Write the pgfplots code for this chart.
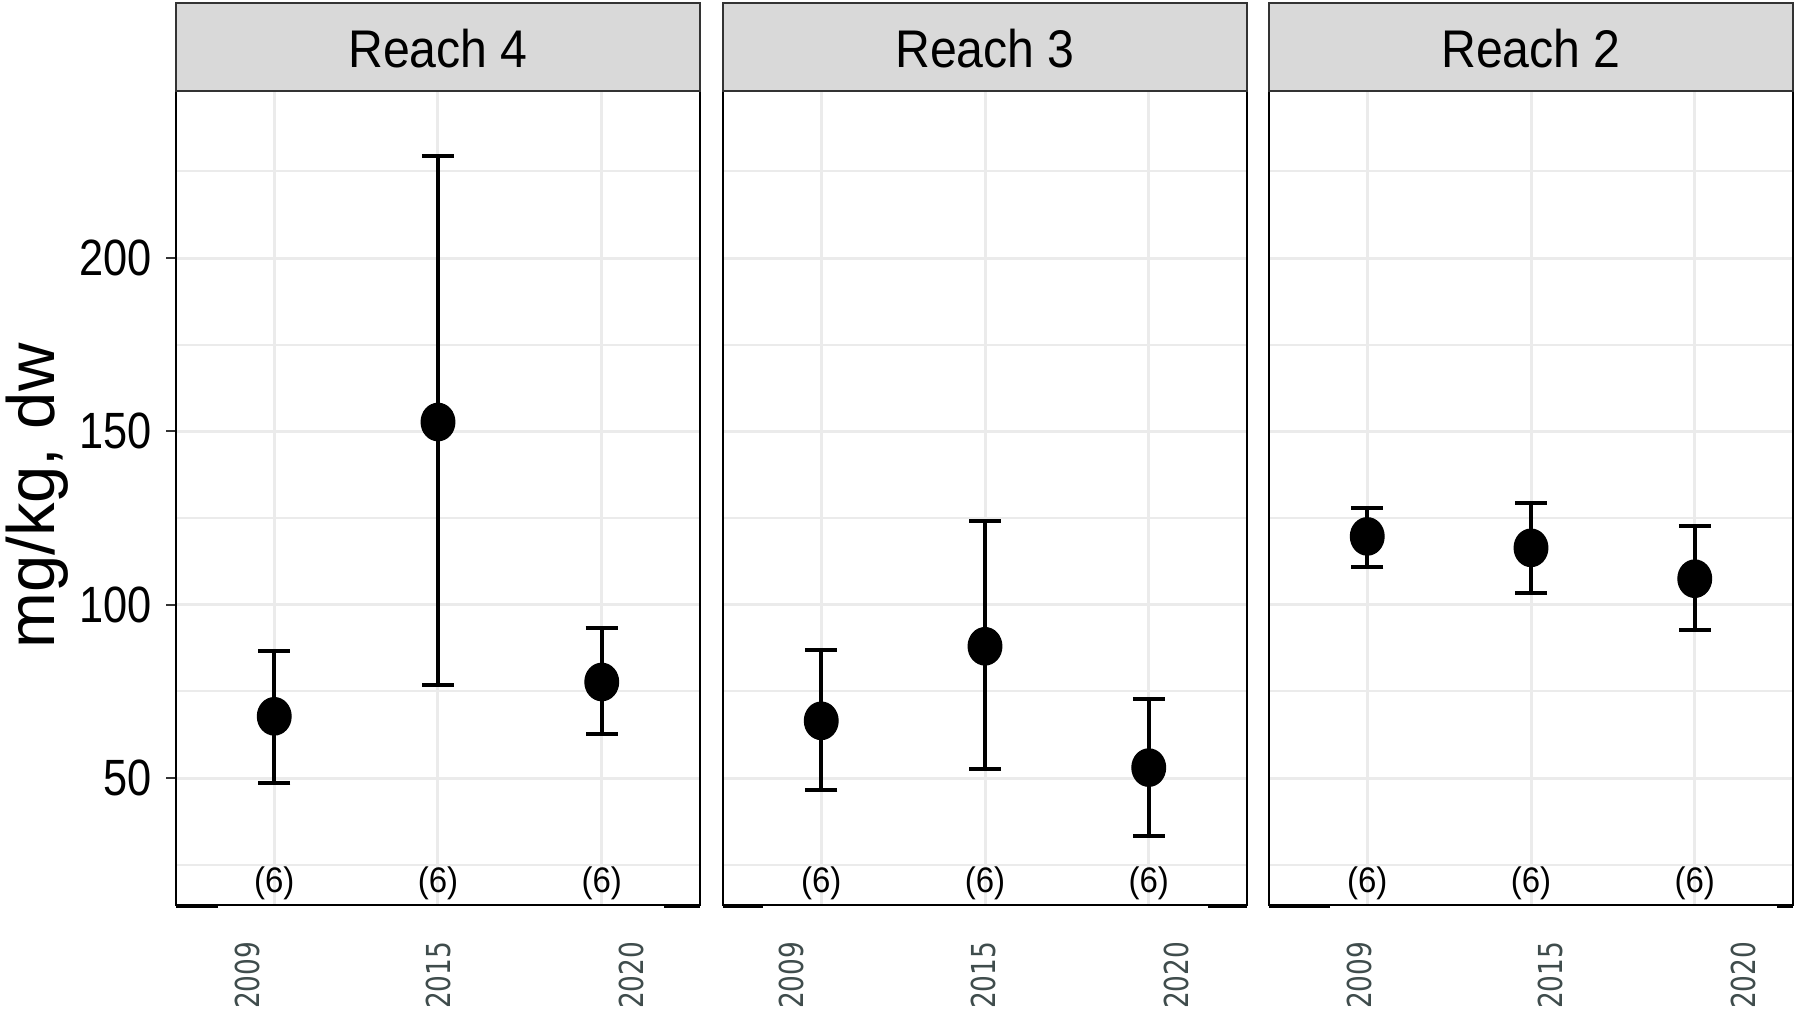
\documentclass[border=0pt]{standalone}
\usepackage{pgfplots}
\pgfplotsset{compat=1.18}
\usepackage{pgfplotstable}
\usepackage{fontspec}
\setmainfont{Liberation Sans}
\newfontfamily\yearfont{DejaVu Sans}
\definecolor{gridc}{HTML}{EBEBEB}
\definecolor{stripc}{HTML}{D9D9D9}
\definecolor{stripb}{HTML}{333333}
\definecolor{yearc}{HTML}{3F4C4C}

\pgfplotstableread{
x y ep em
1 67.8 18.9 19.1
2 152.7 76.7 75.9
3 77.7 15.6 15.1
}\rfour
\pgfplotstableread{
x y ep em
1 66.5 20.5 20.1
2 88.0 36.0 35.4
3 53.0 19.8 19.8
}\rthree
\pgfplotstableread{
x y ep em
1 119.7 8.3 8.7
2 116.4 12.9 12.9
3 107.5 15.2 14.9
}\rtwo

\pgfplotsset{
panel/.style={
  scale only axis, width=157.2pt, height=244.2pt,
  anchor=south west,
  xmin=0.4, xmax=3.6, ymin=13.37, ymax=248.2,
  xtick={1,2,3}, xticklabels={},
  ytick={50,100,150,200}, minor ytick={25,75,125,175,225},
  grid=both,
  major grid style={draw=gridc, line width=0.9pt},
  minor grid style={draw=gridc, line width=0.55pt},
  axis line style={black, line width=0.8pt},
  xtick style={draw=none}, minor tick length=0pt,
  tick align=outside, ytick pos=left,
  clip=false,
},
pts/.style={black, only marks, mark=*, mark size=5.6pt, mark options={xscale=0.9},
  error bars/.cd, y dir=both, y explicit,
  error bar style={line width=1.2pt, black},
  error mark options={rotate=90, black, line width=1.2pt, mark size=4.8pt}},
}
\tikzset{yrlab/.style={anchor=east, rotate=90, text=yearc, inner sep=0pt}}
\newcommand{\nlab}{\fontsize{10.65}{10.65}\selectfont\scalebox{0.93}[1]{(6)}}
\newcommand{\yr}[1]{\yearfont\fontsize{9.9}{9.9}\selectfont\scalebox{0.8}[1]{#1}}

\begin{document}
\begin{tikzpicture}
\useasboundingbox (0,0) rectangle (538.5pt,304.2pt);

% ---------- Reach 4 ----------
\begin{axis}[panel, name=p1, at={(52.8pt,32.7pt)},
  yticklabels={\scalebox{0.85}[1]{50},\scalebox{0.85}[1]{100},\scalebox{0.85}[1]{150},\scalebox{0.85}[1]{200}},
  yticklabel style={font=\fontsize{15.3}{15.3}\selectfont, text=black, inner sep=0pt, xshift=-4pt},
  major tick length=3pt, ytick style={color=stripb, line width=0.65pt}]
\addplot[pts] table[x=x, y=y, y error plus=ep, y error minus=em] {\rfour};
\node at (axis cs:1,19.7) {\nlab};
\node at (axis cs:2,19.7) {\nlab};
\node at (axis cs:3,19.7) {\nlab};
\node[yrlab] at ([yshift=-10.8pt]axis cs:0.834,13.37) {\yr{2009}};
\node[yrlab] at ([yshift=-10.8pt]axis cs:2.0,13.37) {\yr{2015}};
\node[yrlab] at ([yshift=-10.8pt]axis cs:3.179,13.37) {\yr{2020}};
\end{axis}

% ---------- Reach 3 ----------
\begin{axis}[panel, name=p2, at={(216.9pt,32.7pt)},
  yticklabels={}, major tick length=0pt]
\addplot[pts] table[x=x, y=y, y error plus=ep, y error minus=em] {\rthree};
\node at (axis cs:1,19.7) {\nlab};
\node at (axis cs:2,19.7) {\nlab};
\node at (axis cs:3,19.7) {\nlab};
\node[yrlab] at ([yshift=-10.8pt]axis cs:0.821,13.37) {\yr{2009}};
\node[yrlab] at ([yshift=-10.8pt]axis cs:1.988,13.37) {\yr{2015}};
\node[yrlab] at ([yshift=-10.8pt]axis cs:3.167,13.37) {\yr{2020}};
\end{axis}

% ---------- Reach 2 ----------
\begin{axis}[panel, name=p3, at={(380.7pt,32.7pt)},
  yticklabels={}, major tick length=0pt]
\addplot[pts] table[x=x, y=y, y error plus=ep, y error minus=em] {\rtwo};
\node at (axis cs:1,19.7) {\nlab};
\node at (axis cs:2,19.7) {\nlab};
\node at (axis cs:3,19.7) {\nlab};
\node[yrlab] at ([yshift=-10.8pt]axis cs:0.950,13.37) {\yr{2009}};
\node[yrlab] at ([yshift=-10.8pt]axis cs:2.116,13.37) {\yr{2015}};
\node[yrlab] at ([yshift=-10.8pt]axis cs:3.295,13.37) {\yr{2020}};
\end{axis}

% strips
\foreach \p/\t in {p1/Reach 4, p2/Reach 3, p3/Reach 2} {
  \draw[stripb, fill=stripc, line width=0.6pt] (\p.north west) rectangle ([yshift=26.4pt]\p.north east);
  \node[anchor=base, font=\fontsize{15.9}{15.9}\selectfont] at ([yshift=6.9pt]\p.north) {\scalebox{0.91}[1]{\t}};
}
% thick bottom end segments
\draw[black, line width=1.2pt] ([yshift=-0.3pt]p1.south west) -- ++(12.6pt,0);
\draw[black, line width=1.2pt] ([yshift=-0.3pt]p1.south east) -- ++(-10.8pt,0);
\draw[black, line width=1.2pt] ([yshift=-0.3pt]p2.south west) -- ++(12pt,0);
\draw[black, line width=1.2pt] ([yshift=-0.3pt]p2.south east) -- ++(-11.7pt,0);
\draw[black, line width=1.2pt] ([yshift=-0.3pt]p3.south west) -- ++(18.3pt,0);
\draw[black, line width=1.2pt] ([yshift=-0.3pt]p3.south east) -- ++(-4.8pt,0);

% y label
\node[rotate=90, anchor=base, font=\fontsize{20.1}{20.1}\selectfont] at (16.2pt,155.4pt) {mg/kg, dw};
\end{tikzpicture}
\end{document}
